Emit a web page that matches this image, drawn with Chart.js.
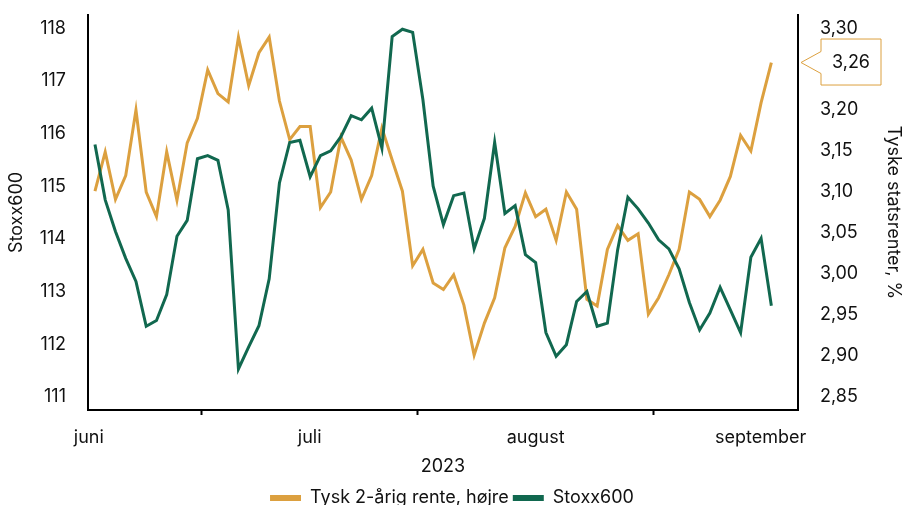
<!DOCTYPE html>
<html>
<head>
<meta charset="utf-8">
<script src="https://cdn.jsdelivr.net/npm/chart.js@4/dist/chart.umd.min.js"></script>
<style>
  html, body { margin: 0; padding: 0; background: #fff; }
  #wrap { width: 904px; height: 505px; }
</style>
</head>
<body>
<div id="wrap"><canvas id="chart"></canvas></div>
<script>
// ── Data (trading days, June 1 → early September 2023) ───────
const rates = [
  3.101, 3.149, 3.091, 3.120, 3.200, 3.100, 3.070, 3.149, 3.090, 3.160,
  3.190, 3.249, 3.220, 3.210, 3.289, 3.230, 3.270, 3.289, 3.211, 3.164,
  3.180, 3.180, 3.081, 3.100, 3.167, 3.139, 3.091, 3.120, 3.178, 3.139,
  3.101, 3.010, 3.030, 2.989, 2.981, 2.999, 2.962, 2.901, 2.940, 2.971,
  3.032, 3.058, 3.099, 3.070, 3.079, 3.041, 3.100, 3.079, 2.969, 2.961,
  3.030, 3.059, 3.041, 3.049, 2.951, 2.971, 2.999, 3.030, 3.100, 3.091,
  3.070, 3.090, 3.119, 3.169, 3.150, 3.209, 3.258
];
const stoxx = [
  115.79, 114.74, 114.14, 113.63, 113.19, 112.34, 112.45, 112.94, 114.05, 114.35,
  115.52, 115.58, 115.49, 114.55, 111.53, 111.95, 112.35, 113.24, 115.06, 115.83,
  115.87, 115.18, 115.58, 115.67, 115.94, 116.34, 116.26, 116.48, 115.72, 117.84,
  117.98, 117.92, 116.64, 115.00, 114.27, 114.82, 114.87, 113.81, 114.39, 115.83,
  114.48, 114.63, 113.70, 113.55, 112.22, 111.77, 111.99, 112.81, 113.00, 112.34,
  112.40, 113.79, 114.79, 114.57, 114.30, 113.98, 113.81, 113.43, 112.79, 112.27,
  112.59, 113.08, 112.65, 112.22, 113.65, 114.01, 112.73
];
const months    = ['juni', 'juli', 'august', 'september'];
const monthAt   = [-0.6, 20.95, 43, 64.95];   // label position (trading day index)
const tickMarks = [10.4, 31.5, 54.5];         // small tick marks between labels
const leftTicks  = [111, 112, 113, 114, 115, 116, 117, 118];
const rightTicks = [2.85, 2.90, 2.95, 3.00, 3.05, 3.10, 3.15, 3.20, 3.25, 3.30];

const ORANGE = '#DCA03F';
const GREEN  = '#11684F';
const FONT   = { family: 'Inter', size: 18 };
const INK    = '#111';

const comma = v => v.toFixed(2).replace('.', ',');

// fixed axis width, and no extra label padding pushing the plot down
const fixWidth = w => s => { s.width = w; s.paddingTop = 0; s.paddingBottom = 0; };

// ── Callout for last rate ─────────────────────────────────────
const lastValue = {
  id: 'lastValue',
  afterDraw(chart) {
    const { ctx, chartArea } = chart;
    const pts = chart.getDatasetMeta(0).data;
    const y = pts[pts.length - 1].y;
    const tip = chartArea.right + 3, bx = chartArea.right + 23, bw = 60;
    ctx.save();
    ctx.beginPath();
    ctx.moveTo(tip, y);
    ctx.lineTo(bx, y - 11);
    ctx.lineTo(bx, y - 23.5);
    ctx.lineTo(bx + bw, y - 23.5);
    ctx.lineTo(bx + bw, y + 22.5);
    ctx.lineTo(bx, y + 22.5);
    ctx.lineTo(bx, y + 11);
    ctx.closePath();
    ctx.fillStyle = '#fff';
    ctx.fill();
    ctx.strokeStyle = ORANGE;
    ctx.lineWidth = 1;
    ctx.stroke();
    ctx.fillStyle = INK;
    ctx.font = `${FONT.size}px ${FONT.family}`;
    ctx.textAlign = 'center';
    ctx.textBaseline = 'middle';
    ctx.fillText(comma(rates[rates.length - 1]), bx + bw / 2, y);
    ctx.restore();
  }
};

Chart.defaults.font = FONT;
Chart.defaults.color = INK;

new Chart(document.getElementById('chart'), {
  type: 'line',
  data: {
    datasets: [
      {
        label: 'Tysk 2-årig rente, højre',
        data: rates.map((v, i) => ({ x: i, y: v })),
        yAxisID: 'y1',
        borderColor: ORANGE,
        backgroundColor: ORANGE,
        borderWidth: 3,
        order: 1,
      },
      {
        label: 'Stoxx600',
        data: stoxx.map((v, i) => ({ x: i, y: v })),
        yAxisID: 'y',
        borderColor: GREEN,
        backgroundColor: GREEN,
        borderWidth: 3,
        order: 0,
      },
    ]
  },
  options: {
    responsive: true,
    maintainAspectRatio: false,
    animation: false,
    elements: { point: { radius: 0 }, line: { tension: 0 } },
    layout: { padding: { top: 15, left: 0, right: 0, bottom: -12 } },
    plugins: {
      tooltip: { enabled: false },
      legend: {
        position: 'bottom',
        labels: {
          boxWidth: 31,
          boxHeight: 6,
          padding: 4,
          color: INK,
          sort: (a, b) => a.datasetIndex - b.datasetIndex,
          generateLabels: chart => chart.data.datasets.map((d, i) => ({
            text: d.label, fillStyle: d.borderColor, strokeStyle: d.borderColor,
            lineWidth: 0, datasetIndex: i, fontColor: INK,
          })),
        }
      }
    },
    scales: {
      x: {
        type: 'linear',
        min: -0.68,
        max: 68.6,
        afterBuildTicks: s => {
          s.ticks = months.map((m, i) => ({ value: monthAt[i] }))
            .concat(tickMarks.map(v => ({ value: v })))
            .sort((a, b) => a.value - b.value);
        },
        afterFit: s => { s.height = 75; },
        ticks: {
          autoSkip: false,
          maxRotation: 0,
          padding: 12,
          color: INK,
          callback: v => { const i = monthAt.indexOf(v); return i >= 0 ? months[i] : ''; },
        },
        grid: {
          drawOnChartArea: false,
          tickLength: 5,
          tickWidth: 2,
          tickColor: c => (c.tick && tickMarks.includes(c.tick.value)) ? '#000' : 'rgba(0,0,0,0)',
        },
        border: { color: '#000', width: 2 },
        title: { display: true, text: '2023', color: INK, padding: { top: 0, bottom: 8 } },
      },
      y: {
        position: 'left',
        min: 110.75,
        max: 118.25,
        afterBuildTicks: s => { s.ticks = leftTicks.map(v => ({ value: v })); },
        afterFit: fixWidth(88),
        ticks: { padding: 22, color: INK },
        grid: { drawOnChartArea: false, drawTicks: false },
        border: { color: '#000', width: 2 },
        title: { display: true, text: 'Stoxx600', color: INK, padding: { top: 6, bottom: 0 } },
      },
      y1: {
        position: 'right',
        min: 2.834,
        max: 3.316,
        afterBuildTicks: s => { s.ticks = rightTicks.map(v => ({ value: v })); },
        afterFit: fixWidth(106),
        ticks: { padding: 22, color: INK, callback: v => Math.abs(v - 3.25) < 1e-6 ? '' : comma(v) },
        grid: { drawOnChartArea: false, drawTicks: false },
        border: { color: '#000', width: 2 },
        title: { display: true, text: 'Tyske statsrenter, %', color: INK, padding: { top: 0, bottom: 0 } },
      },
    }
  },
  plugins: [lastValue]
});
</script>
</body>
</html>
